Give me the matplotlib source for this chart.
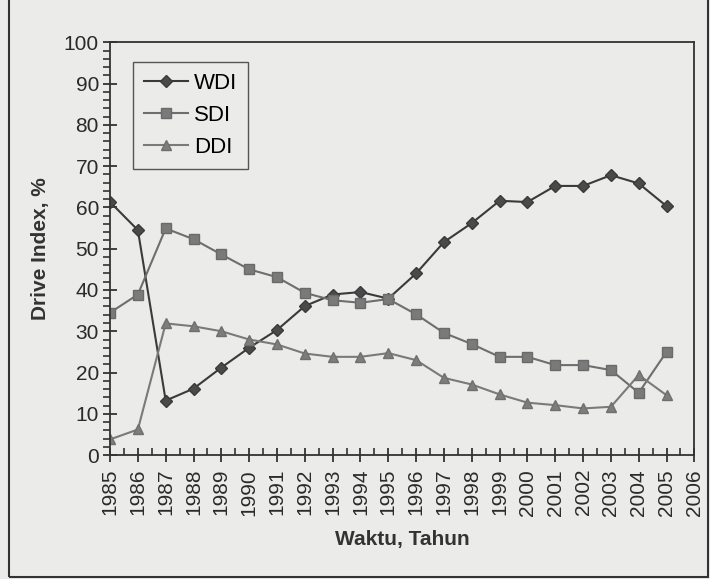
import numpy as np
import matplotlib
matplotlib.use("Agg")
from matplotlib import pyplot as plt
from matplotlib.ticker import MultipleLocator

years = list(range(1985, 2006))
wdi = [61.3, 54.5, 13.2, 16.1, 21.2, 26.0, 30.3, 36.1, 38.9, 39.5, 37.9,
       44.0, 51.6, 56.2, 61.6, 61.3, 65.2, 65.2, 67.8, 65.8, 60.3]
sdi = [34.5, 38.9, 54.9, 52.3, 48.6, 45.0, 43.1, 39.3, 37.5, 36.9, 37.8,
       34.1, 29.6, 26.9, 23.8, 23.8, 21.8, 21.8, 20.6, 15.1, 25.0]
ddi = [3.8, 6.2, 31.9, 31.2, 30.0, 28.0, 26.8, 24.6, 23.8, 23.8, 24.7,
       23.0, 18.7, 17.1, 14.7, 12.7, 12.1, 11.3, 11.7, 19.4, 14.5]
xticks = list(range(1985, 2007))

plt.rcParams['font.family'] = ['Liberation Sans', 'DejaVu Sans']
bg = '#ebebea'

fig = plt.figure(figsize=(7.10, 5.79), dpi=100, facecolor=bg)
ax = fig.add_axes([0.155, 0.214, 0.823, 0.713], facecolor=bg)

ax.plot(years, wdi, color='#3a3a3a', lw=1.5, marker='D', ms=6,
        mfc='#4a4a4a', mec='#3a3a3a', label='WDI')
ax.plot(years, sdi, color='#6e6e6e', lw=1.5, marker='s', ms=6.5,
        mfc='#7a7a7a', mec='#6a6a6a', label='SDI')
ax.plot(years, ddi, color='#7a7a7a', lw=1.5, marker='^', ms=7,
        mfc='#7d7d7d', mec='#6f6f6f', label='DDI')

ax.set_xlim(1985, 2006)
ax.set_ylim(0, 100)
ax.set_xticks(xticks)
ax.set_xticklabels([str(y) for y in xticks], rotation=90)
ax.xaxis.set_minor_locator(MultipleLocator(0.5))
ax.yaxis.set_major_locator(MultipleLocator(10))
ax.yaxis.set_minor_locator(MultipleLocator(2))

ax.tick_params(axis='both', which='major', direction='inout', length=10,
               width=1.3, color='#333333', labelsize=15, labelcolor='#2a2a2a')
ax.tick_params(axis='x', which='minor', direction='in', length=5, width=1.2,
               color='#333333')
ax.tick_params(axis='y', which='minor', direction='out', length=5, width=1.2,
               color='#333333')
ax.tick_params(axis='x', which='major', pad=5)
ax.tick_params(axis='y', which='major', pad=3)

for s in ax.spines.values():
    s.set_color('#333333')
    s.set_linewidth(1.3)

ax.set_ylabel('Drive Index, %', fontsize=15, fontweight='bold',
              color='#333333', labelpad=10)
ax.set_xlabel('Waktu, Tahun', fontsize=15, fontweight='bold',
              color='#333333', labelpad=10)

leg = ax.legend(loc='upper left', bbox_to_anchor=(0.02, 0.98), fontsize=16,
                frameon=True, fancybox=False, edgecolor='#555555',
                facecolor=bg, framealpha=1, handlelength=2.0,
                handletextpad=0.25, borderpad=0.5, labelspacing=0.5)
leg.get_frame().set_linewidth(1.0)

# outer frame of the scanned figure
frame = plt.Rectangle((0.012, 0.004), 0.985, 1.2, transform=fig.transFigure,
                      fill=False, edgecolor='#333333', lw=1.5)
fig.patches.append(frame)

fig.savefig('out.png', dpi=100, facecolor=bg)
